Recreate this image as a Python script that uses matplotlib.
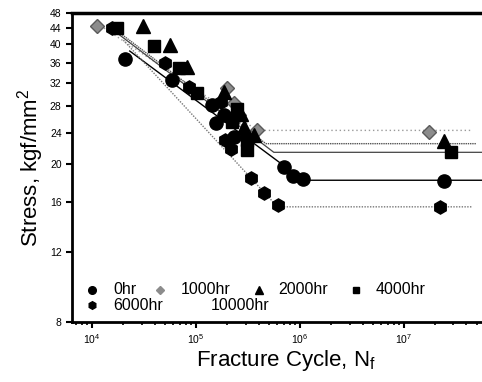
import matplotlib
matplotlib.use("Agg")
import matplotlib.pyplot as plt

plt.rcParams["font.family"] = ["Liberation Sans", "DejaVu Sans"]
plt.rcParams["mathtext.fontset"] = "custom"
plt.rcParams["mathtext.rm"] = "Liberation Sans"
plt.rcParams["mathtext.it"] = "Liberation Sans"

# data points (cycles, stress) per aging time
hr0_n = [2.05e4, 5.9e4, 1.42e5, 1.54e5, 1.85e5, 2.3e5, 7.05e5, 8.5e5, 1.08e6, 2.44e7]
hr0_s = [36.7, 32.5, 28.2, 25.3, 26.6, 23.4, 19.6, 18.6, 18.3, 18.1]

hr1000_n = [1.11e4, 2.0e5, 2.3e5, 2.6e5, 3.9e5, 1.75e7]
hr1000_s = [44.5, 31.0, 28.5, 26.5, 24.3, 24.1]

hr2000_n = [3.06e4, 5.58e4, 8.2e4, 1.86e5, 2.7e5, 2.9e5, 3.6e5, 2.44e7]
hr2000_s = [44.5, 39.9, 35.0, 30.4, 26.8, 24.8, 23.7, 22.8]

hr4000_n = [1.73e4, 3.91e4, 6.8e4, 1.02e5, 2.2e5, 2.5e5, 3.1e5, 3.1e5, 2.81e7]
hr4000_s = [44.0, 39.6, 34.8, 30.1, 25.5, 27.5, 23.0, 21.7, 21.4]

hr6000_n = [1.56e4, 5.0e4, 8.5e4, 1.73e5, 1.9e5, 2.15e5, 3.37e5, 4.46e5, 6.08e5, 2.25e7]
hr6000_s = [44.0, 36.0, 31.3, 28.7, 23.0, 21.8, 18.4, 16.9, 15.8, 15.6]

# fitted S-N lines: start, knee (endurance limit), end
fit_labels = ["0hr", "1000hr", "2000hr", "4000hr", "6000hr"]
fit_start_n = [2.3e4, 1.3e4, 1.6e4, 1.5e4, 2.0e4]
fit_start_s = [38.5, 44.0, 44.0, 44.0, 41.0]
fit_knee_n = [1.08e6, 3.9e5, 4.7e5, 5.6e5, 6.08e5]
fit_limit_s = [18.2, 24.3, 22.5, 21.4, 15.6]
fit_end_n = [6.0e7, 4.5e7, 5.0e7, 5.9e7, 4.5e7]

yticks = [8, 12, 16, 20, 24, 28, 32, 36, 40, 44, 48]

legend_labels = ["0hr", "1000hr", "2000hr", "4000hr", "6000hr", "10000hr"]

fig = plt.figure(figsize=(4.82, 3.82), dpi=100)
ax = fig.add_axes([72 / 482, 1 - 322 / 382, 412 / 482, 309 / 382])

line_styles = {
    "0hr": dict(color="black", lw=1.0, ls="-"),
    "1000hr": dict(color="#9a9a9a", lw=1.0, ls=(0, (1, 2))),
    "2000hr": dict(color="#555555", lw=1.0, ls=(0, (1, 0.6))),
    "4000hr": dict(color="#444444", lw=0.9, ls="-"),
    "6000hr": dict(color="#777777", lw=1.0, ls=(0, (1, 1))),
}
for i, lab in enumerate(fit_labels):
    st = line_styles[lab]
    ax.plot([fit_start_n[i], fit_knee_n[i], fit_end_n[i]],
            [fit_start_s[i], fit_limit_s[i], fit_limit_s[i]],
            zorder=2, **st)

ms = 9.5
ax.plot(hr0_n, hr0_s, "o", color="black", ms=ms, mec="black", zorder=4)
ax.plot(hr1000_n, hr1000_s, "D", color="#8c8c8c", ms=ms - 2, mec="#5a5a5a", zorder=3)
ax.plot(hr2000_n, hr2000_s, "^", color="black", ms=ms, mec="black", zorder=3)
ax.plot(hr4000_n, hr4000_s, "s", color="black", ms=ms - 1, mec="black", zorder=3)
ax.plot(hr6000_n, hr6000_s, "h", color="black", ms=ms, mec="black", zorder=3)

ax.set_xscale("log")
ax.set_yscale("log")
ax.set_xlim(6.4e3, 5.9e7)
ax.set_ylim(8, 48)
ax.set_yticks(yticks)
ax.set_yticklabels([str(t) for t in yticks])
ax.yaxis.set_minor_locator(matplotlib.ticker.NullLocator())

ax.tick_params(axis="both", which="major", direction="out", labelsize=7.5,
               length=4, width=1.5)
ax.tick_params(axis="x", which="minor", direction="out", length=2.5, width=1.2)
ax.tick_params(axis="x", pad=3)

for side in ["left", "bottom"]:
    ax.spines[side].set_linewidth(2)
ax.spines["top"].set_linewidth(2.5)
ax.spines["right"].set_visible(False)

ax.set_xlabel("Fracture Cycle, N$_f$", fontsize=16)
ax.set_ylabel("Stress, kgf/mm$^2$", fontsize=16, labelpad=3)
ax.xaxis.set_label_coords(0.52, -0.085)

# hand-placed legend (in axes fractions) to follow the original's uneven spacing
leg_markers = ["o", "D", "^", "s", "h", None]
leg_colors = ["black", "#8c8c8c", "black", "black", "black", "white"]
leg_sizes = [5.5, 4.5, 5.5, 4.5, 5.5, 5]
leg_mx = [92, 160, 259, 356, 92, 190]
leg_tx = [113, 181, 278, 376, 113, 211]
leg_y = [290, 290, 290, 290, 305, 305]
for lab, mk, c, s, mx, tx, y in zip(legend_labels, leg_markers, leg_colors,
                                    leg_sizes, leg_mx, leg_tx, leg_y):
    fy = (322 - y) / 309
    if mk is not None:
        ax.plot([(mx - 72) / 412], [fy], marker=mk, ls="none", color=c, ms=s,
                transform=ax.transAxes, clip_on=False, zorder=5)
    ax.text((tx - 72) / 412, fy, lab, transform=ax.transAxes, fontsize=11.5,
            ha="left", va="center")

fig.savefig("out.png", dpi=100)
